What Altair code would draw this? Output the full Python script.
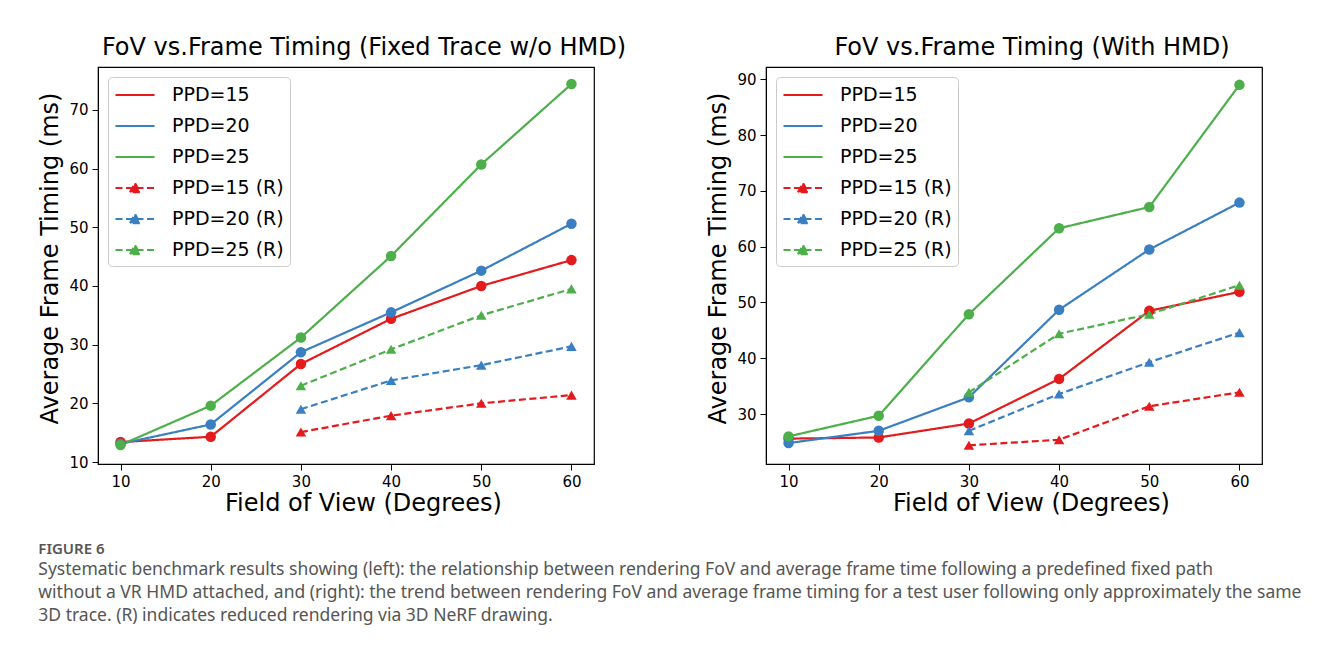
import altair as alt
import pandas as pd

# ---------------- data ----------------
fov = [10, 20, 30, 40, 50, 60]
fov_r = [30, 40, 50, 60]
series_names = ["PPD=15", "PPD=20", "PPD=25", "PPD=15 (R)", "PPD=20 (R)", "PPD=25 (R)"]
colors = ["#e41a1c", "#3a7fc1", "#4daf4a", "#e41a1c", "#3a7fc1", "#4daf4a"]

# left: Fixed Trace w/o HMD
left_ppd15 = [13.4, 14.3, 26.7, 34.4, 40.0, 44.4]
left_ppd20 = [13.1, 16.4, 28.7, 35.5, 42.6, 50.6]
left_ppd25 = [12.9, 19.6, 31.2, 45.1, 60.7, 74.4]
left_ppd15_r = [15.1, 17.9, 20.0, 21.4]
left_ppd20_r = [19.0, 23.9, 26.5, 29.7]
left_ppd25_r = [23.0, 29.2, 35.0, 39.5]

# right: With HMD
right_ppd15 = [25.6, 25.8, 28.3, 36.3, 48.5, 51.9]
right_ppd20 = [24.8, 27.0, 33.0, 48.7, 59.5, 67.9]
right_ppd25 = [26.0, 29.7, 47.9, 63.3, 67.1, 89.0]
right_ppd15_r = [24.4, 25.4, 31.4, 33.9]
right_ppd20_r = [27.0, 33.6, 39.3, 44.6]
right_ppd25_r = [33.9, 44.4, 47.9, 53.1]

LINE = "M-1,0H2.72"
LINE_TRI = "M-1,0H2.72M0.38,0.4L0.86,-0.46L1.34,0.4Z"
legend_paths = [LINE, LINE, LINE, LINE_TRI, LINE_TRI, LINE_TRI]
dashes = [[1, 0], [1, 0], [1, 0], [7, 3.5], [7, 3.5], [7, 3.5]]

FONT = "DejaVu Sans"


def make_df(full, red):
    rows = []
    for name, vals in zip(series_names[:3], full):
        for x, y in zip(fov, vals):
            rows.append({"fov": x, "val": y, "series": name, "kind": "base"})
    for name, vals in zip(series_names[3:], red):
        for x, y in zip(fov_r, vals):
            rows.append({"fov": x, "val": y, "series": name, "kind": "R"})
    return pd.DataFrame(rows)


def panel(df, title, ydomain, yticks):
    x = alt.X("fov:Q", scale=alt.Scale(domain=[7.5, 62.5], nice=False, zero=False),
              axis=alt.Axis(values=fov, title="Field of View (Degrees)"))
    y = alt.Y("val:Q", scale=alt.Scale(domain=ydomain, nice=False, zero=False),
              axis=alt.Axis(values=yticks, title="Average Frame Timing (ms)"))

    leg = alt.Legend(
        title=None, orient="top-left", offset=10,
        symbolSize=441, symbolStrokeWidth=2.2, symbolOpacity=1,
        labelFont=FONT, labelFontSize=19, labelColor="black",
        labelOffset=34, rowPadding=9,
        padding=6, strokeColor="#cccccc", fillColor="white", cornerRadius=4,
    )
    # legend-only layer (no rows drawn; entries come from the explicit scale domains)
    legend_layer = alt.Chart(df).transform_filter("false").mark_point(
        filled=True, strokeWidth=2.2
    ).encode(
        x=x, y=y,
        color=alt.Color("series:N", scale=alt.Scale(domain=series_names, range=colors), legend=leg),
        stroke=alt.Stroke("series:N", scale=alt.Scale(domain=series_names, range=colors), legend=leg),
        strokeDash=alt.StrokeDash("series:N", scale=alt.Scale(domain=series_names, range=dashes), legend=leg),
        shape=alt.Shape("series:N", scale=alt.Scale(domain=series_names, range=legend_paths), legend=leg),
    )
    cscale = alt.Scale(domain=series_names, range=colors)
    lines = alt.Chart(df).mark_line(strokeWidth=2.2).encode(
        x=x, y=y,
        color=alt.Color("series:N", scale=cscale, legend=None),
        strokeDash=alt.StrokeDash("series:N", scale=alt.Scale(domain=series_names, range=dashes), legend=None),
        detail="series:N",
    )
    points = alt.Chart(df).mark_point(filled=True, size=110, opacity=1).encode(
        x=x, y=y,
        color=alt.Color("series:N", scale=cscale, legend=None),
        shape=alt.Shape("kind:N", scale=alt.Scale(domain=["base", "R"], range=["circle", "triangle-up"]), legend=None),
    )
    data_layers = alt.layer(lines, points)
    return alt.layer(legend_layer, data_layers).resolve_scale(
        color="independent", stroke="independent", strokeDash="independent", shape="independent"
    ).properties(
        width=496, height=397,
        title=alt.TitleParams(title, fontSize=24, font=FONT, fontWeight="normal", offset=7,
                              color="black", dx=18),
    )


left = panel(make_df([left_ppd15, left_ppd20, left_ppd25], [left_ppd15_r, left_ppd20_r, left_ppd25_r]),
             "FoV vs.Frame Timing (Fixed Trace w/o HMD)", [9.66, 77.3], [10, 20, 30, 40, 50, 60, 70])
right = panel(make_df([right_ppd15, right_ppd20, right_ppd25], [right_ppd15_r, right_ppd20_r, right_ppd25_r]),
              "FoV vs.Frame Timing (With HMD)", [21.05, 92.2], [30, 40, 50, 60, 70, 80, 90])

caption = [
    "Systematic benchmark results showing (left): the relationship between rendering FoV and average frame time following a predefined fixed path",
    "without a VR HMD attached, and (right): the trend between rendering FoV and average frame timing for a test user following only approximately the same",
    "3D trace. (R) indicates reduced rendering via 3D NeRF drawing.",
]

chart = alt.hconcat(left, right, spacing=79).resolve_scale(
    color="independent", shape="independent", strokeDash="independent", stroke="independent"
).resolve_legend(
    color="independent", shape="independent", strokeDash="independent", stroke="independent"
).properties(
    padding={"left": 30, "top": 27, "right": 5, "bottom": 5},
    title=alt.TitleParams(
        "FIGURE 6", subtitle=caption, orient="bottom", anchor="start",
        font="Noto Sans", fontSize=15, fontWeight=600, color="#555555",
        subtitleFont="Noto Sans", subtitleFontSize=17.5, subtitleColor="#555555",
        subtitleLineHeight=23, subtitlePadding=4, offset=26,
    ),
).configure_axis(
    grid=False, domainColor="black", tickColor="black", tickSize=6,
    labelFont=FONT, labelFontSize=15, labelColor="black",
    titleFont=FONT, titleFontSize=24, titleFontWeight="normal", titleColor="black",
    labelPadding=4,
).configure_axisY(titlePadding=6, titleY=191).configure_axisX(titlePadding=2, titleX=265).configure_view(
    stroke="black", strokeWidth=1.2
)

chart.save("out.html", embed_options={"renderer": "svg", "actions": False})
